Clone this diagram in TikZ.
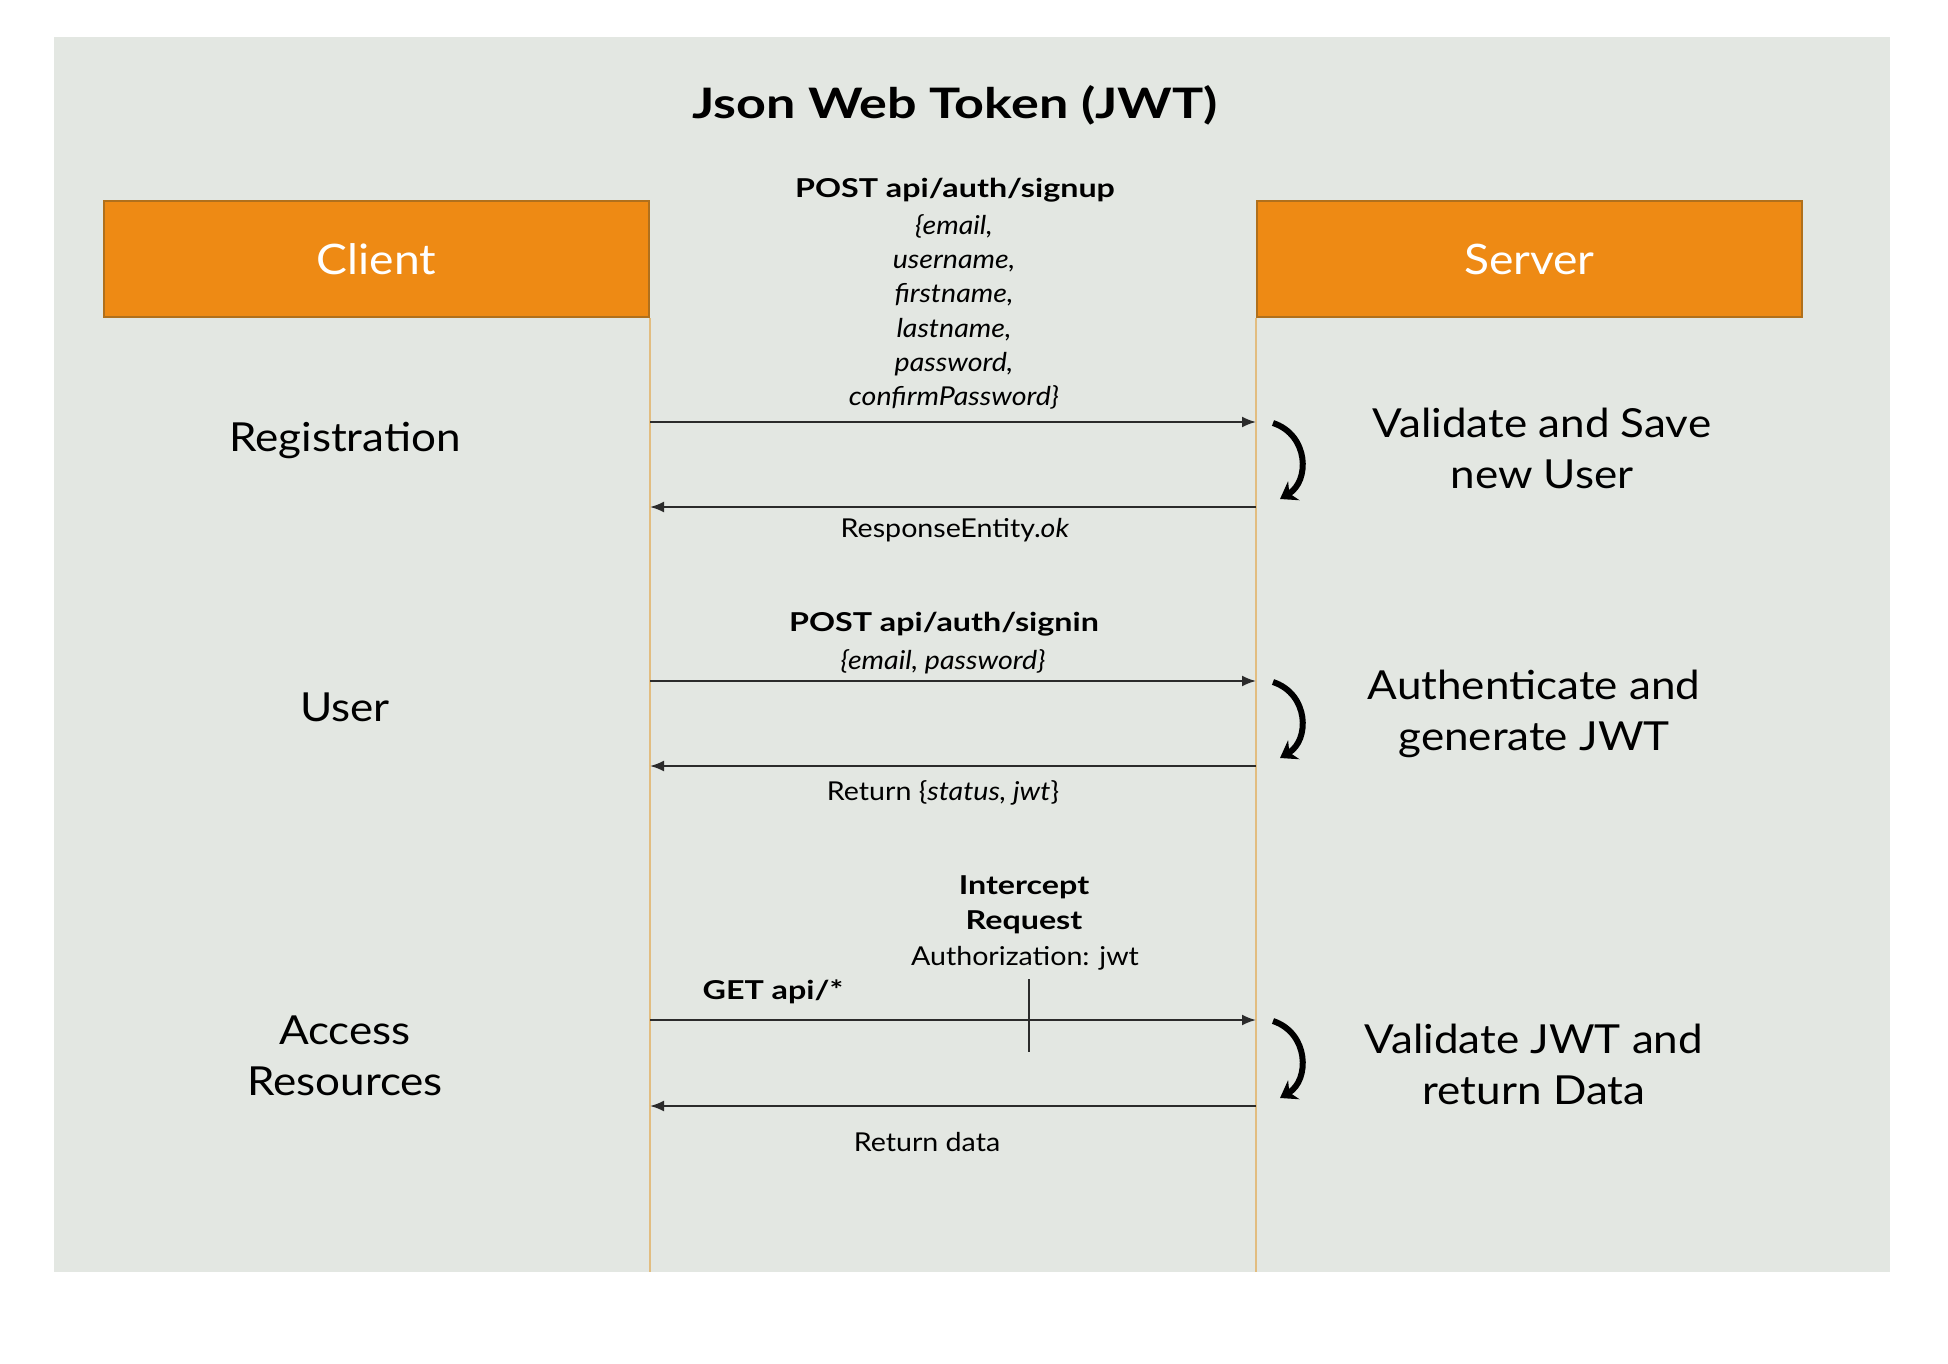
\documentclass[tikz,border=0pt]{standalone}
\usepackage{fontspec}
\setmainfont{Lato}[
  UprightFeatures={FakeStretch=1.1},
  ItalicFeatures={FakeStretch=1.1},
  BoldFeatures={FakeStretch=1.24}
]
\usetikzlibrary{
  arrows.meta,
  positioning
}
\definecolor{slidebg}{HTML}{E3E7E2}
\definecolor{boxorange}{HTML}{EE8A14}
\definecolor{boxedge}{HTML}{B0701C}
\definecolor{lifecolor}{HTML}{E2BD80}
\definecolor{msgcolor}{HTML}{2B2B2B}
\tikzset{
  actor/.style={
    draw=boxedge,
    line width=2pt,
    fill=boxorange,
    minimum width=545pt,
    minimum height=116pt,
    inner sep=0pt,
    text=white,
    font=\fontsize{42}{50}\selectfont
  },
  lane/.style={font=\fontsize{40}{51}\selectfont, align=center},
  msg/.style={font=\fontsize{26}{35}\selectfont, align=center, inner sep=0pt},
  lifeline/.style={draw=lifecolor, line width=2pt},
  call/.style={draw=msgcolor, line width=2pt, -{Latex[length=14pt,width=11pt]}},
  turn/.style={draw=black, line width=6pt, -{Stealth[length=16pt,width=22pt]}},
  mark line/.style={draw=msgcolor, line width=1.5pt}
}
\begin{document}
\begin{tikzpicture}[x=1pt,y=-1pt]
  \useasboundingbox (0,0) rectangle (1948,1364);
  \fill[slidebg] (54,37) rectangle (1890,1272);

  \node[font=\bfseries\fontsize{42}{48}\selectfont] (title) at (955,105) {Json Web Token (JWT)};
  \node[actor] (client) at (376.5,259) {Client};
  \node[actor] (server) at (1529.5,259) {Server};
  \draw[lifeline] (client.south east) -- (client.south east |- 0,1272);
  \draw[lifeline] (server.south west) -- (server.south west |- 0,1272);

  \foreach \y [count=\i] in {422,507,681,766,1020,1106} {
    \coordinate (c\i) at (client.east |- 0,\y);
    \coordinate (s\i) at (server.west |- 0,\y);
  }
  \draw[call] (c1) -- (s1);
  \draw[call] (s2) -- (c2);
  \draw[call] (c3) -- (s3);
  \draw[call] (s4) -- (c4);
  \draw[call] (c5) -- (s5);
  \draw[call] (s6) -- (c6);
  \foreach \a/\b in {1/2,3/4,5/6}
    \draw[turn] ([shift={(17,1)}]s\a) .. controls +(36,12) and +(30,-18) .. ([shift={(24,-8)}]s\b);

  \node[lane] (registration) at (345,440) {Registration};
  \node[lane] (user) at (345,707) {User};
  \node[lane] (access) at (345,1056) {Access\\Resources};
  \node[lane] (save) at (1542,448) {Validate and Save\\new User};
  \node[lane] (authenticate) at (1534,714) {Authenticate and\\generate JWT};
  \node[lane] (validate) at (1534,1064) {Validate JWT and\\return Data};

  \node[msg, font=\bfseries\fontsize{26}{35}\selectfont] (signup) at (955,190) {POST api/auth/signup};
  \node[msg, font=\itshape\fontsize{26}{34.3}\selectfont] (fields) at (954,312) {\{email,\\username,\\firstname,\\lastname,\\password,\\confirmPassword\}};
  \node[msg] (ok) at (955,530) {ResponseEntity.\textit{ok}};
  \node[msg, font=\bfseries\fontsize{26}{35}\selectfont] (signin) at (944,624) {POST api/auth/signin};
  \node[msg, font=\itshape\fontsize{26}{35}\selectfont] (credentials) at (943,662) {\{email, password\}};
  \node[msg] (token) at (943,793) {Return \{\textit{status, jwt}\}};
  \node[msg, font=\bfseries\fontsize{26}{35}\selectfont] (intercept) at (1024,905) {Intercept\\Request};
  \node[msg] (authorization) at (1025,958) {Authorization: jwt};
  \node[msg, font=\bfseries\fontsize{26}{35}\selectfont] (get) at (773,992) {GET api/*};
  \node[msg] (data) at (927,1142) {Return data};

  \coordinate (tick top) at (1029,979);
  \coordinate (tick bottom) at (1029,1052);
  \draw[mark line] (tick top) -- (tick bottom);
\end{tikzpicture}
\end{document}
